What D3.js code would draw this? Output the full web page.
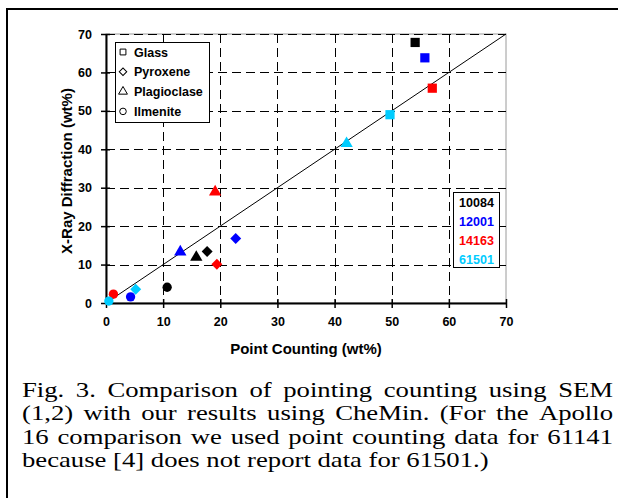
<!DOCTYPE html>
<html>
<head>
<meta charset="utf-8">
<script src="https://cdn.jsdelivr.net/npm/d3@7"></script>
<style>
  body { margin: 0; background: #fff; }
</style>
</head>
<body>
<div id="wrap"></div>
<script>
// mineral phases (symbol order) and samples (colour order)
var minerals = ['Glass', 'Pyroxene', 'Plagioclase', 'Ilmenite'];
var samples = ['10084', '12001', '14163', '61501'];
var sampleColors = ['#000000', '#0000ff', '#ff0000', '#00ccff'];

// point counting (x) and X-ray diffraction (y), wt%, in mineral order
var pc10084 = [54.1, 17.7, 15.8, 10.7];
var xrd10084 = [67.8, 13.4, 11.9, 4.1];
var pc12001 = [55.8, 22.7, 13.0, 4.3];
var xrd12001 = [63.8, 16.8, 13.3, 1.6];
var pc14163 = [57.1, 19.4, 19.1, 1.3];
var xrd14163 = [55.9, 10.1, 28.9, 2.3];
var pc61501 = [49.7, 5.2, 42.1, 0.5];
var xrd61501 = [49.0, 3.6, 41.5, 0.5];

var xTicks = [0, 10, 20, 30, 40, 50, 60, 70];
var yTicks = [0, 10, 20, 30, 40, 50, 60, 70];

var captionLines = [
  'Fig. 3. Comparison of pointing counting using SEM',
  '(1,2) with our results using CheMin. (For the Apollo',
  '16 comparison we used point counting data for 61141',
  'because [4] does not report data for 61501.)'
];

var pcs = [pc10084, pc12001, pc14163, pc61501];
var xrds = [xrd10084, xrd12001, xrd14163, xrd61501];

var points = [];
minerals.forEach(function(m, mi) {
  samples.forEach(function(s, si) {
    points.push({mineral: mi, sample: si, x: pcs[si][mi], y: xrds[si][mi]});
  });
});

var W = 618, H = 498;
var svg = d3.select('#wrap').append('svg')
  .attr('width', W).attr('height', H).style('display', 'block');

// outer frame (top and left)
svg.append('line').attr('x1', 6).attr('x2', W).attr('y1', 9).attr('y2', 9)
  .attr('stroke', '#000').attr('stroke-width', 2);
svg.append('line').attr('x1', 7).attr('x2', 7).attr('y1', 8).attr('y2', H)
  .attr('stroke', '#000').attr('stroke-width', 2);

var x = d3.scaleLinear().domain([0, 70]).range([106, 506]);
var y = d3.scaleLinear().domain([0, 70]).range([303, 34]);

var font = 'Arial, "Liberation Sans", sans-serif';

// plot area border
svg.append('rect')
  .attr('x', x(0)).attr('y', y(70))
  .attr('width', x(70) - x(0)).attr('height', y(0) - y(70))
  .attr('fill', '#fff').attr('stroke', '#9a9a9a').attr('stroke-width', 1);

// dashed grid
svg.append('g').selectAll('line').data(yTicks.slice(1)).enter().append('line')
  .attr('x1', x(0)).attr('x2', x(70))
  .attr('y1', function(d) { return Math.round(y(d)) + 0.5; })
  .attr('y2', function(d) { return Math.round(y(d)) + 0.5; })
  .attr('stroke', '#000').attr('stroke-width', 1).attr('stroke-dasharray', '9,5');
svg.append('g').selectAll('line').data(xTicks.slice(1, -1)).enter().append('line')
  .attr('y1', y(70)).attr('y2', y(0))
  .attr('x1', function(d) { return Math.round(x(d)) + 0.5; })
  .attr('x2', function(d) { return Math.round(x(d)) + 0.5; })
  .attr('stroke', '#000').attr('stroke-width', 1).attr('stroke-dasharray', '9,5');

// axes
var xAxis = d3.axisBottom(x).tickValues(xTicks).tickSizeInner(5).tickSizeOuter(0).tickPadding(9);
var yAxis = d3.axisLeft(y).tickValues(yTicks).tickSizeInner(5).tickSizeOuter(0).tickPadding(8);

var gx = svg.append('g').attr('transform', 'translate(0,' + y(0) + ')').call(xAxis);
var gy = svg.append('g').attr('transform', 'translate(' + x(0) + ',0)').call(yAxis);
[gx, gy].forEach(function(g) {
  g.select('.domain').attr('stroke', '#000').attr('stroke-width', 2);
  g.selectAll('.tick line').attr('stroke', '#000').attr('stroke-width', 1.5);
  g.selectAll('.tick text').attr('font-family', font).attr('font-size', 12.5)
    .attr('font-weight', 'bold').attr('fill', '#000');
});
// crossing ticks
gx.selectAll('.tick line').attr('y1', -4).attr('y2', 5);
gy.selectAll('.tick line').attr('x1', 4).attr('x2', -5);
gy.selectAll('.tick text').attr('x', -14);

// 1:1 line
svg.append('line')
  .attr('x1', x(0)).attr('y1', y(0)).attr('x2', x(70)).attr('y2', y(70))
  .attr('stroke', '#000').attr('stroke-width', 1);

// axis titles
svg.append('text').attr('x', 306).attr('y', 354).attr('text-anchor', 'middle')
  .attr('font-family', font).attr('font-size', 15).attr('font-weight', 'bold')
  .text('Point Counting (wt%)');
svg.append('text').attr('transform', 'translate(71.5,171) rotate(-90)')
  .attr('text-anchor', 'middle')
  .attr('font-family', font).attr('font-size', 15).attr('font-weight', 'bold')
  .text('X-Ray Diffraction (wt%)');

// symbols
var symType = [d3.symbolSquare, d3.symbolSquare, d3.symbolTriangle, d3.symbolCircle];
var symSize = [85, 60, 66, 68];
var symRot = [0, 45, 0, 0];

svg.append('g').selectAll('path').data(points).enter().append('path')
  .attr('d', function(d) { return d3.symbol(symType[d.mineral], symSize[d.mineral])(); })
  .attr('transform', function(d) {
    return 'translate(' + x(d.x) + ',' + y(d.y) + ') rotate(' + symRot[d.mineral] + ')';
  })
  .attr('fill', function(d) { return sampleColors[d.sample]; });

// mineral legend
var lg = svg.append('g');
lg.append('rect').attr('x', 115.5).attr('y', 42.5).attr('width', 94).attr('height', 80)
  .attr('fill', '#fff').attr('stroke', '#000').attr('stroke-width', 1);
minerals.forEach(function(m, i) {
  var cy = 52 + i * 19.8;
  lg.append('path')
    .attr('d', d3.symbol(symType[i], [34, 28, 34, 34][i])())
    .attr('transform', 'translate(123,' + cy + ') rotate(' + symRot[i] + ')')
    .attr('fill', '#fff').attr('stroke', '#000').attr('stroke-width', 1);
  lg.append('text').attr('x', 134).attr('y', cy + 4.5)
    .attr('font-family', font).attr('font-size', 12.5).attr('font-weight', 'bold')
    .text(m);
});

// sample legend
var sg = svg.append('g');
sg.append('rect').attr('x', 453.5).attr('y', 192.5).attr('width', 46).attr('height', 75)
  .attr('fill', '#fff').attr('stroke', '#000').attr('stroke-width', 1);
samples.forEach(function(s, i) {
  sg.append('text').attr('x', 476.5).attr('y', 207 + i * 19).attr('text-anchor', 'middle')
    .attr('font-family', font).attr('font-size', 12.5).attr('font-weight', 'bold')
    .attr('fill', sampleColors[i]).text(s);
});

// caption, justified word by word (text is a little wide in the source)
var sx = 1.27, capLeft = 22, capW = 591;
captionLines.forEach(function(t, i) {
  var g = svg.append('g')
    .attr('transform', 'translate(' + capLeft + ',' + (397 + i * 23.4) + ') scale(' + sx + ',1)');
  var words = t.split(' ');
  var nodes = words.map(function(w) {
    return g.append('text')
      .attr('font-family', '"Liberation Serif", "Times New Roman", serif')
      .attr('font-size', 21).text(w);
  });
  var widths = nodes.map(function(n) { return n.node().getComputedTextLength(); });
  var total = d3.sum(widths);
  var gap = (i === captionLines.length - 1) ? 21 * 0.25 : (capW / sx - total) / (words.length - 1);
  var pos = 0;
  nodes.forEach(function(n, k) {
    n.attr('x', pos);
    pos += widths[k] + gap;
  });
});
</script>
</body>
</html>
